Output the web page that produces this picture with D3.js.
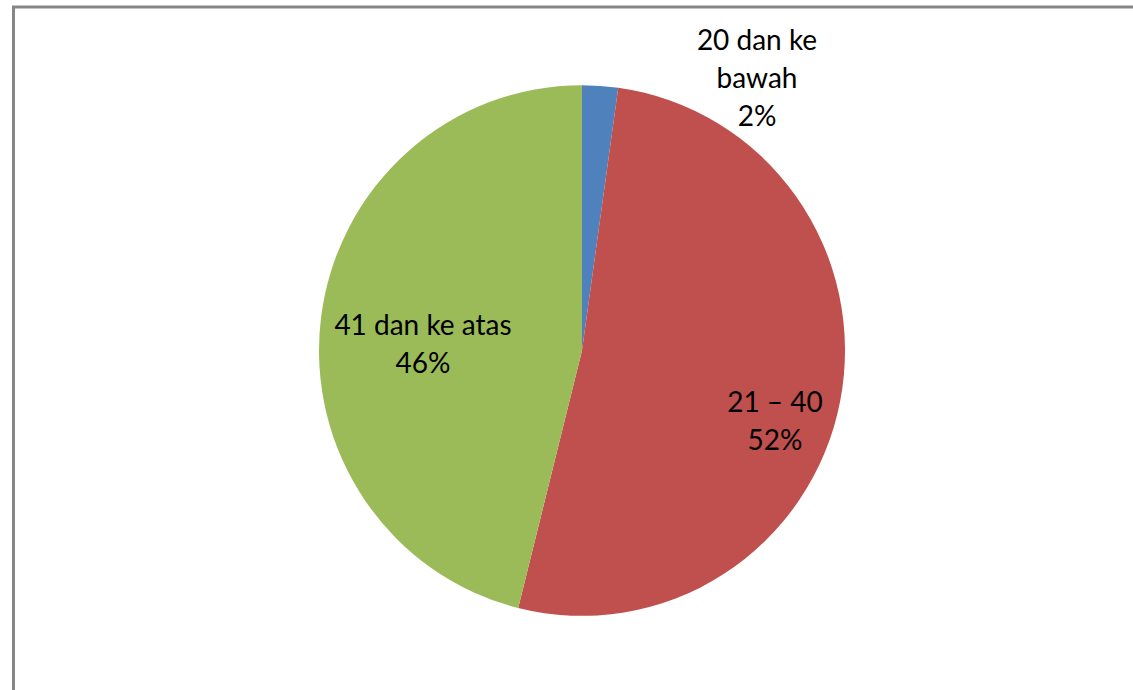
<!DOCTYPE html>
<html><head><meta charset="utf-8">
<script src="https://cdn.jsdelivr.net/npm/d3@7"></script>
<style>html,body{margin:0;padding:0;background:#fff;}svg{display:block;}</style>
</head><body>
<svg id="chart" width="1133" height="690"></svg>
<script>
const categories = ["20 dan ke bawah", "21 – 40", "41 dan ke atas"];
const values = [2.2, 51.7, 46.1];
const percentLabels = ["2%", "52%", "46%"];
const labelLines = [["20 dan ke", "bawah", "2%"], ["21 – 40", "52%"], ["41 dan ke atas", "46%"]];
const colors = ["#4F81BD", "#C0504D", "#9BBB59"];

const svg = d3.select("#chart");
const W = 1133, H = 690;
svg.append("rect").attr("width", W).attr("height", H).attr("fill", "#fff");

// frame (left and top edges visible)
svg.append("line").attr("x1", 13.5).attr("y1", 7).attr("x2", 13.5).attr("y2", H).attr("stroke", "#868686").attr("stroke-width", 3);
svg.append("line").attr("x1", 12).attr("y1", 7).attr("x2", W).attr("y2", 7).attr("stroke", "#868686").attr("stroke-width", 3);

const cx = 582, cy = 350.5, R = 263;
const pie = d3.pie().sort(null).value(d => d)(values);
const arc = d3.arc().innerRadius(0).outerRadius(R);
const g = svg.append("g").attr("transform", `translate(${cx},${cy}) scale(1,1.009)`);
g.selectAll("path").data(pie).join("path")
  .attr("d", arc).attr("fill", (d, i) => colors[i]);

// label anchor positions (center x, first baseline y) relative to the svg
const labelPos = [[757, 50], [775, 412], [423, 335]];
const lineH = 38;
labelLines.forEach((lines, i) => {
  const t = svg.append("text")
    .attr("x", labelPos[i][0]).attr("y", labelPos[i][1])
    .attr("text-anchor", "middle")
    .attr("font-family", "Lato, 'Open Sans', sans-serif")
    .attr("font-size", 28).attr("fill", "#000");
  lines.forEach((ln, j) => {
    t.append("tspan").attr("x", labelPos[i][0]).attr("dy", j === 0 ? 0 : lineH).text(ln);
  });
});
</script>
</body></html>
